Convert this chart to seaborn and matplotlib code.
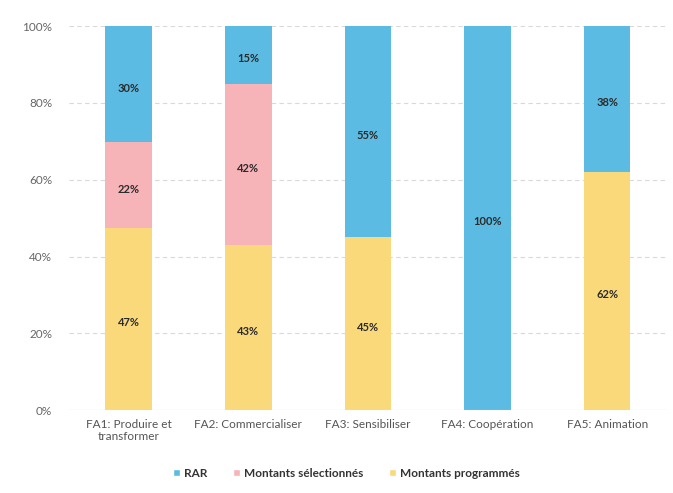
import numpy as np
import pandas as pd
import matplotlib
matplotlib.use('Agg')
import matplotlib.pyplot as plt
import seaborn as sns
from matplotlib.patches import Patch
from matplotlib.ticker import PercentFormatter

sns.set_style('white')
plt.rcParams['font.family'] = ['Lato', 'DejaVu Sans']

# data
categories = ['FA1: Produire et\ntransformer', 'FA2: Commercialiser', 'FA3: Sensibiliser',
              'FA4: Coopération', 'FA5: Animation']
programmes = [47.4, 43, 45, 0, 62]
selectionnes = [22.3, 42, 0, 0, 0]
rar = [30.3, 15, 55, 100, 38]

colors = {
    'RAR': '#5bbbe2',
    'Montants sélectionnés': '#f6b3b8',
    'Montants programmés': '#f9d97a',
}

df = pd.DataFrame({'cat': categories, 'prog': programmes, 'sel': selectionnes, 'rar': rar})
df['cum_sel'] = df['prog'] + df['sel']
df['cum_rar'] = df['cum_sel'] + df['rar']

fig = plt.figure(figsize=(6.73, 4.93), dpi=100)
ax = fig.add_axes([0.1025, 0.168, 0.8885, 0.779])

# stacked bars drawn as cumulative layers, tallest first
for col, name in [('cum_rar', 'RAR'), ('cum_sel', 'Montants sélectionnés'), ('prog', 'Montants programmés')]:
    sns.barplot(data=df, x='cat', y=col, color=colors[name], width=0.39,
                saturation=1, ax=ax, errorbar=None, linewidth=0)

# data labels
for i, row in df.iterrows():
    for base, val in [(0, row['prog']), (row['prog'], row['sel']), (row['cum_sel'], row['rar'])]:
        if val > 0:
            ax.text(i, base + val / 2 - 1, f'{val:.0f}%', ha='center', va='center',
                    fontsize=8, fontweight='bold', color='#2b2b2b')

ax.set_ylim(0, 100)
ax.set_xlim(-0.5, len(categories) - 0.5)
ax.yaxis.set_major_formatter(PercentFormatter(decimals=0))
ax.set_yticks(range(0, 101, 20))
ax.yaxis.grid(True, linestyle=(0, (4, 3)), color='#d9d9d9', linewidth=0.8)
ax.set_axisbelow(True)
ax.set_xlabel('')
ax.set_ylabel('')
ax.tick_params(axis='y', labelsize=8.5, labelcolor='#666666', length=0, pad=12)
ax.tick_params(axis='x', labelsize=8.5, labelcolor='#555555', length=0, pad=6)
for s in ax.spines.values():
    s.set_visible(False)
ax.axhline(0, color='#d9d9d9', linewidth=0.8)

handles = [Patch(facecolor=colors[n], label=n) for n in colors]
leg = fig.legend(handles=handles, loc='center', bbox_to_anchor=(0.515, 0.04), ncol=3,
                 frameon=False, fontsize=8.5, handlelength=0.6, handleheight=0.6,
                 columnspacing=2.2, handletextpad=0.3)
for t in leg.get_texts():
    t.set_fontweight('bold')
    t.set_color('#333333')

fig.savefig('out.png', dpi=100)
